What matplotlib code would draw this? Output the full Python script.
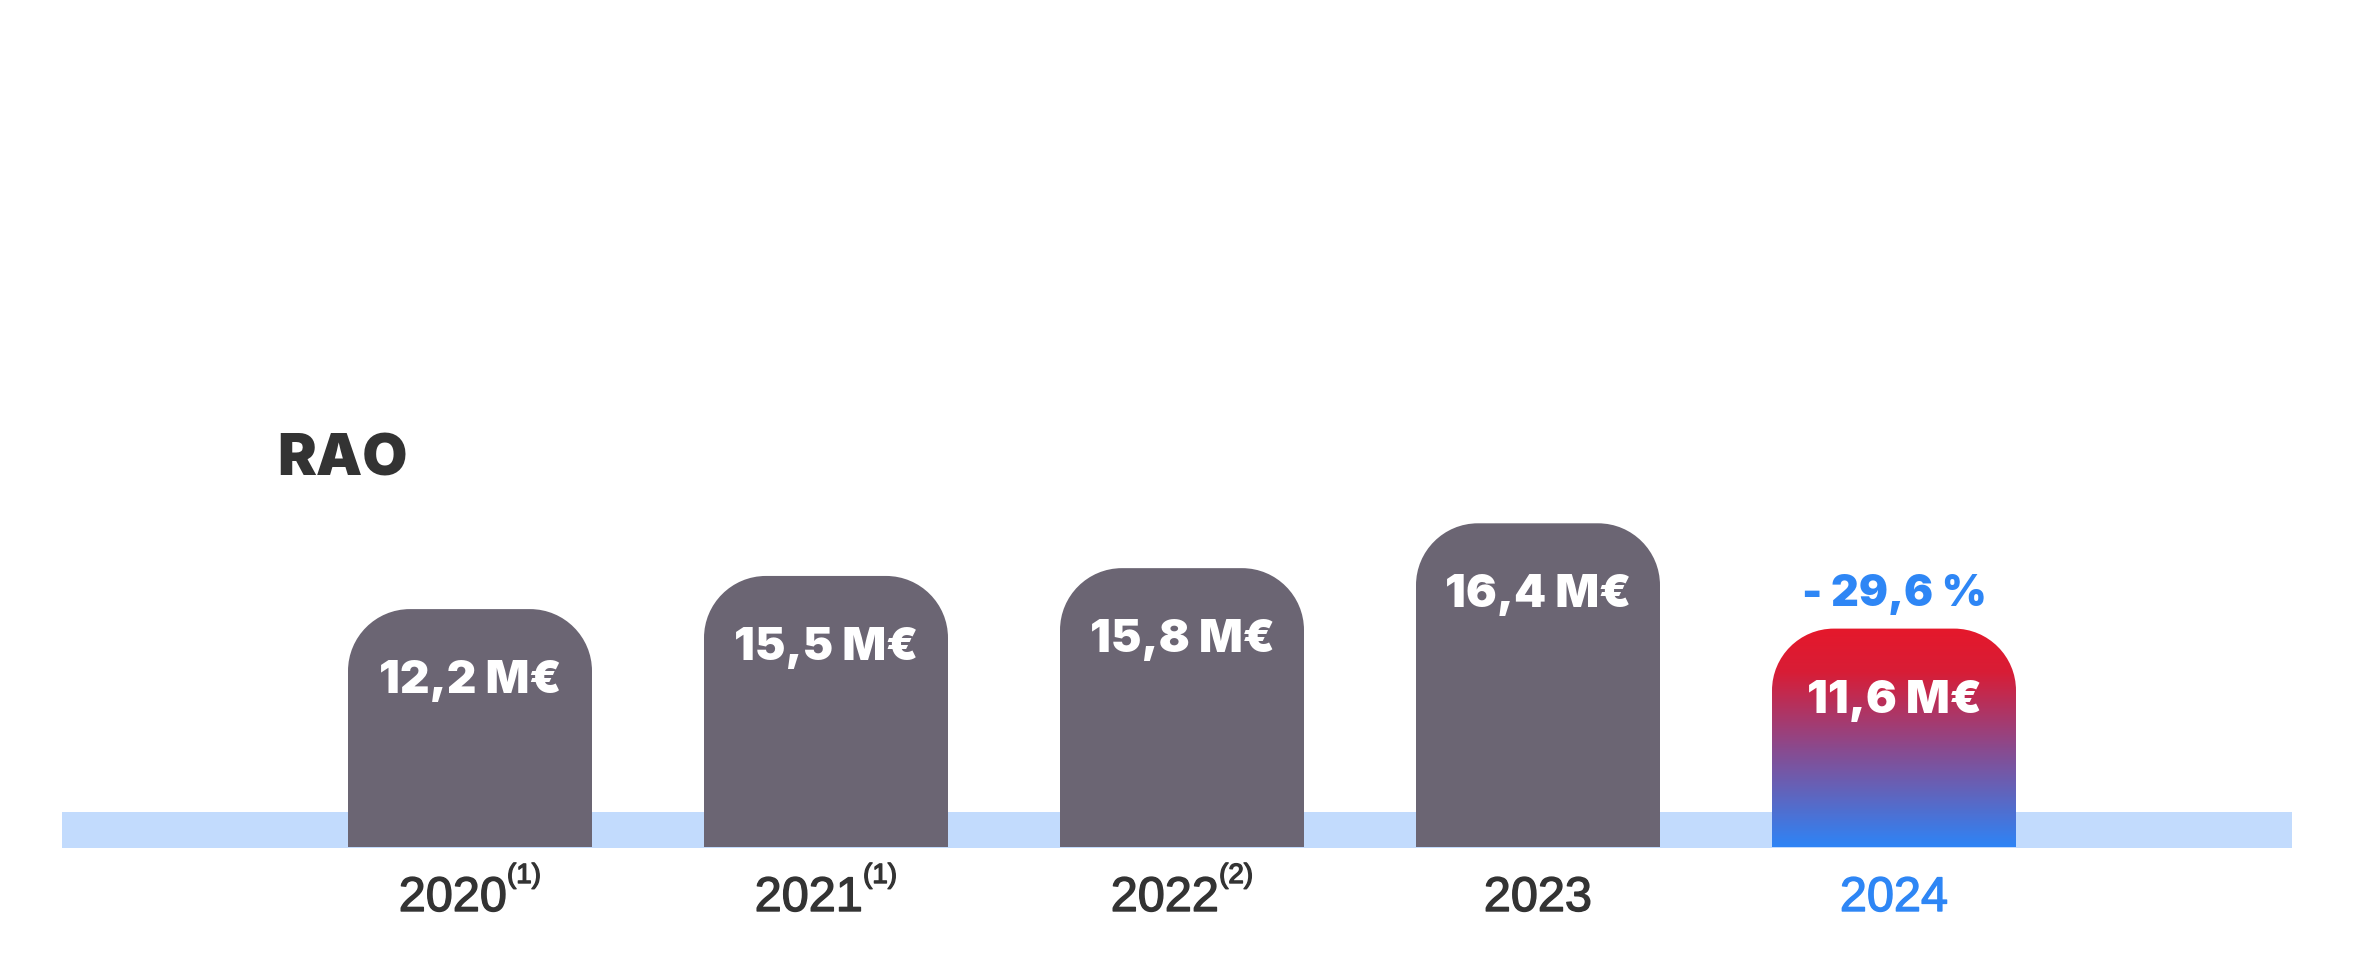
import numpy as np
import matplotlib
matplotlib.use("Agg")
import matplotlib.pyplot as plt
import matplotlib.patheffects as pe
from matplotlib import font_manager as fm
from matplotlib.path import Path
from matplotlib.patches import PathPatch, Rectangle
from matplotlib.colors import LinearSegmentedColormap

# données
years = ["2020", "2021", "2022", "2023", "2024"]
notes = ["(1)", "(1)", "(2)", "", ""]
value_labels = ["12,2 M€", "15,5 M€", "15,8 M€", "16,4 M€", "11,6 M€"]
# hauteurs telles que dessinées (pas proportionnelles aux libellés)
bar_heights = [12.2, 13.9, 14.3, 16.6, 11.2]
change_label = "- 29,6 %"
title = "RAO"

# couleurs
GREY = "#6b6573"
BAND = "#c2dbfd"
DARK = "#333333"
BLUE = "#2e86f5"
grad = LinearSegmentedColormap.from_list(
    "rao", [(0.0, "#2e84f6"), (0.45, "#8a4a8e"), (0.8, "#d81d36"), (1.0, "#e5182b")])

# mise en page (pixels)
W, H = 2355, 968
X0, DX = 470, 356       # centre de la 1re barre, pas entre barres
Y0, DY = 121, 19.5      # zéro (depuis le bas), pixels par unité
BAR_W = 244 / DX
R_PX = 62


def font_file(name, weight):
    for f in fm.fontManager.ttflist:
        if f.name == name and f.weight == weight and f.style == "normal":
            return f.fname
    return None


black_file = font_file("Inter", 900) or font_file("Lato", 900)
if black_file:
    heavy = dict(fontproperties=fm.FontProperties(fname=black_file))
else:
    heavy = dict(fontweight="bold")

fig = plt.figure(figsize=(W / 100, H / 100), dpi=100)
ax = fig.add_axes([0, 0, 1, 1])
ax.set_xlim(-X0 / DX, (W - X0) / DX)
ax.set_ylim(-Y0 / DY, (H - Y0) / DY)
ax.axis("off")


def rounded_top(xc, w, h, rx, ry):
    k = 0.5523
    l, r = xc - w / 2, xc + w / 2
    verts = [(l, 0), (l, h - ry), (l, h - ry + k * ry), (l + rx - k * rx, h), (l + rx, h),
             (r - rx, h), (r - rx + k * rx, h), (r, h - ry + k * ry), (r, h - ry),
             (r, 0), (l, 0)]
    codes = [Path.MOVETO, Path.LINETO, Path.CURVE4, Path.CURVE4, Path.CURVE4,
             Path.LINETO, Path.CURVE4, Path.CURVE4, Path.CURVE4,
             Path.LINETO, Path.CLOSEPOLY]
    return Path(verts, codes)


# bande bleue claire
ax.add_patch(Rectangle(((62 - X0) / DX, -1 / DY), (2292 - 62) / DX, 36 / DY,
                       facecolor=BAND, edgecolor="none", zorder=1))

n = len(years)
for i in range(n):
    h = bar_heights[i]
    path = rounded_top(i, BAR_W, h, R_PX / DX, R_PX / DY)
    if i == n - 1:
        patch = PathPatch(path, facecolor="none", edgecolor="none", zorder=2)
        ax.add_patch(patch)
        img = ax.imshow(np.linspace(0, 1, 256).reshape(-1, 1), cmap=grad, origin="lower",
                        extent=[i - BAR_W / 2, i + BAR_W / 2, 0, h], aspect="auto", zorder=2)
        img.set_clip_path(patch)
    else:
        ax.add_patch(PathPatch(path, facecolor=GREY, edgecolor="none", zorder=2))

    t = ax.annotate(value_labels[i], xy=(i, h), xytext=(0, -72), textcoords="offset pixels",
                    ha="center", va="center", color="white", zorder=3, **heavy)
    t.set_fontsize(33)

# variation au-dessus de 2024
t = ax.annotate(change_label, xy=(n - 1, bar_heights[-1]), xytext=(0, 34),
                textcoords="offset pixels", ha="center", va="center", color=BLUE,
                zorder=3, **heavy)
t.set_fontsize(31)

# titre
t = fig.text(277 / W, 1 - 475 / H, title, ha="left", va="baseline", color=DARK, **heavy)
t.set_fontsize(42)

# années + renvois, centrés ensemble sous chaque barre
fig.canvas.draw()
renderer = fig.canvas.get_renderer()
for i in range(n):
    col = BLUE if i == n - 1 else DARK
    fx = [pe.withStroke(linewidth=1.0, foreground=col)]
    t = ax.annotate(years[i], xy=(i, 0), xytext=(0, -64), textcoords="offset pixels",
                    ha="left", va="baseline", color=col, fontsize=35,
                    family="Liberation Sans", path_effects=fx)
    w1 = t.get_window_extent(renderer).width
    w2 = 0
    s = None
    if notes[i]:
        s = ax.annotate(notes[i], xy=(i, 0), xytext=(0, -36), textcoords="offset pixels",
                        ha="left", va="baseline", color=col, fontsize=20,
                        family="Liberation Sans", path_effects=fx)
        w2 = s.get_window_extent(renderer).width
    left = -(w1 + w2) / 2
    t.set_position((left, -64))
    if s is not None:
        s.set_position((left + w1, -36))

fig.savefig("out.png", dpi=100, facecolor="white")
